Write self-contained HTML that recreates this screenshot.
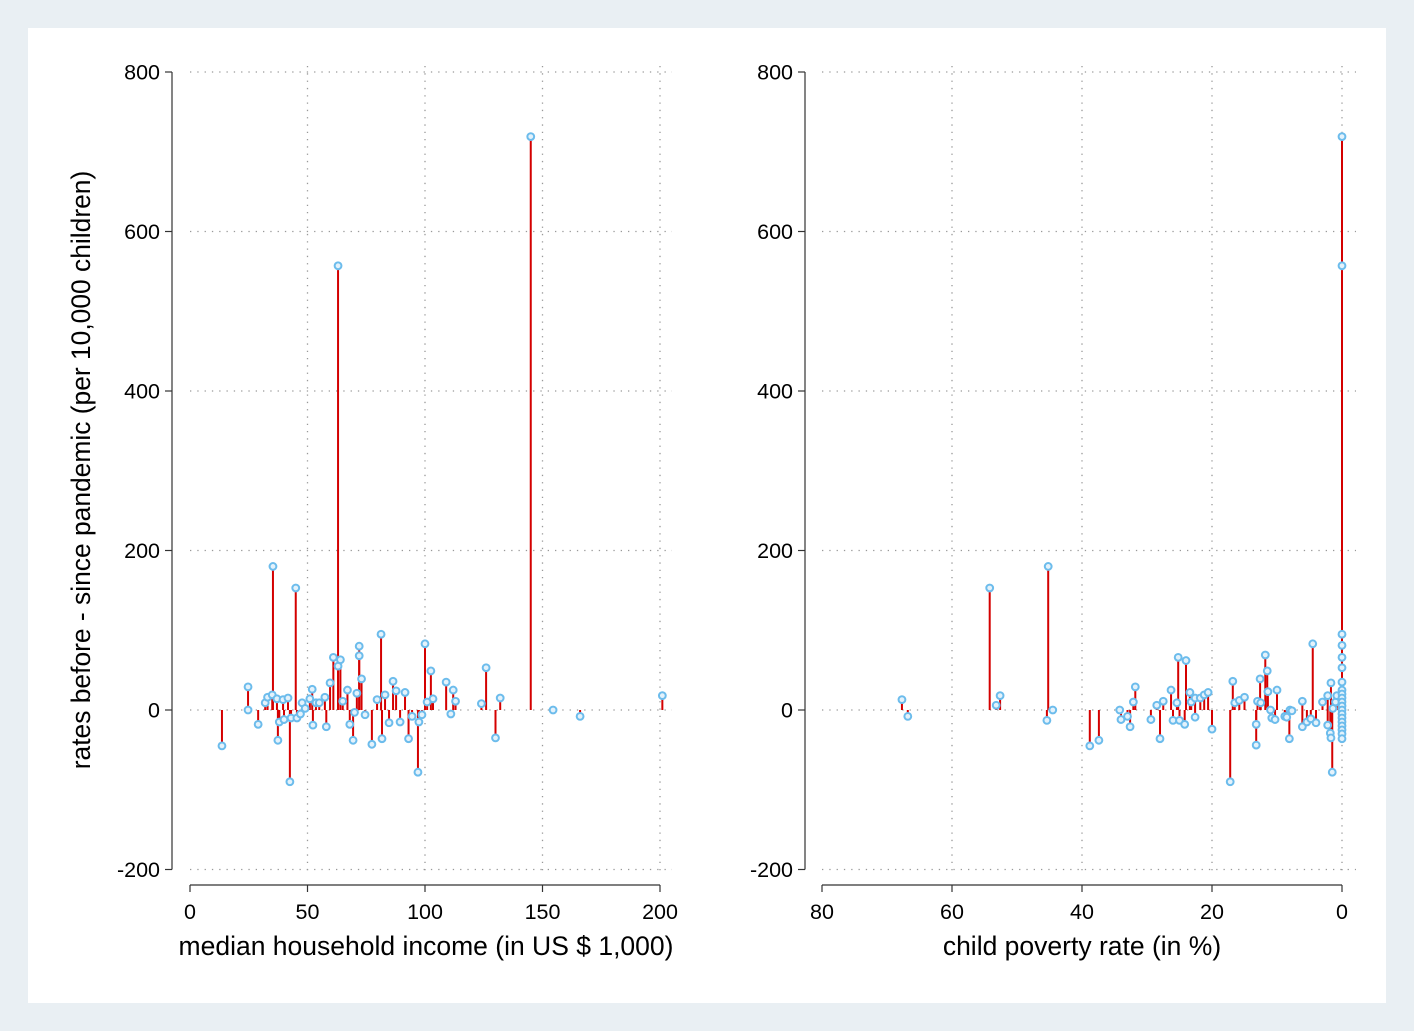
<!DOCTYPE html>
<html><head><meta charset="utf-8"><style>
html,body{margin:0;padding:0;background:#e9eff3;}
svg{display:block;font-family:"Liberation Sans",Arial,sans-serif;}
</style></head><body>
<svg id="chart" width="1414" height="1031" viewBox="0 0 1414 1031">
<rect x="0" y="0" width="1414" height="1031" fill="#e9eff3"/>
<rect x="28" y="28" width="1358" height="975" fill="#ffffff"/>
<g id="left"></g>
<g id="right"></g>
<text x="90" y="470" font-size="26.4" text-anchor="middle" transform="rotate(-90 90 470)" fill="#000">rates before - since pandemic (per 10,000 children)</text>
<text x="426" y="955" font-size="26.5" text-anchor="middle" fill="#000">median household income (in US $ 1,000)</text>
<text x="1082" y="955" font-size="26.5" text-anchor="middle" fill="#000">child poverty rate (in %)</text>
</svg>
<script>
const yTicks = [800, 600, 400, 200, 0, -200];
const incomeTicks = [0, 50, 100, 150, 200];
const povertyTicks = [80, 60, 40, 20, 0];
const incomeX = [13.6,24.7,24.7,29,32,33,35.3,35,37,37.4,38,39.6,40,41.7,42.5,43,45,45.5,47,47.7,49,51,52,52.3,53.6,55,57.4,58,59.6,61,63,63,64,65,67,68,69.4,70,71,72,72,73,74.5,77.4,79.6,81.3,81.7,83,84.7,86.4,87.7,89.4,91.5,93,94.5,97,97.4,98.7,100,100.9,102.5,103.4,109,111,112,113,124,126,130,132,145,154.5,166,201];
const incomeVal = [-45,29,0,-18,9,16,180,19,14,-38,-15,13,-12,15,-90,-10,153,-10,-5,9,2,14,26,-19,9,9,16,-21,34,66,55,557,63,11,25,-18,-38,-3,21,80,68,39,-6,-43,13,95,-36,19,-16,36,24,-15,22,-36,-8,-78,-15,-6,83,10,49,14,35,-5,25,11,8,53,-35,15,719,0,-8,18];
const povertyX = [67.7,66.8,54.2,53.2,52.6,45.2,45.4,44.5,38.8,37.4,34.2,34,33,32.6,32.1,31.8,29.4,28.5,28,27.5,26.3,26,25.2,25.4,25,24,24.2,23.4,23.2,22.6,22.6,21.8,21.2,20.6,20,17.2,16.8,16.5,15.8,15,13.2,13.2,13,12.6,12.5,11.8,11.5,11.4,11,10.8,10.3,10,8.8,8.5,8.1,8,7.7,6.1,6.1,5.4,4.8,4.5,4,3,2.2,2.2,1.8,1.7,1.7,1.5,1.4,1,0.8,0,0,0,0,0,0,0,0,0,0,0,0,0,0,0,0,0,0,0,0];
const povertyVal = [13,-8,153,6,18,180,-13,0,-45,-38,0,-12,-8,-21,10,29,-12,6,-36,11,25,-13,66,9,-13,62,-18,22,10,-9,15,15,19,22,-24,-90,36,9,12,16,-18,-44,11,39,9,69,49,23,0,-10,-12,25,-8,-9,-36,0,-1,-21,11,-15,-11,83,-16,10,18,-19,-29,34,-35,-78,2,10,18,719,557,95,81,66,53,35,25,20,15,10,5,0,-5,-10,-15,-20,-25,-30,-36];

const NS='http://www.w3.org/2000/svg';
function mk(parent, tag, attrs){const e=document.createElementNS(NS,tag);for(const k in attrs)e.setAttribute(k,attrs[k]);parent.appendChild(e);return e;}
const yScale = v => 710 - v*(159.5/200);

function panel(g, cfg){
  yTicks.forEach(t=>{
    const l=mk(g,'line',{x1:cfg.gx0,x2:cfg.gx1,y1:yScale(t),y2:yScale(t),stroke:'#999','stroke-width':1.3,'stroke-dasharray':'1.3 6'});
    
    
    const tk=mk(g,'line',{x1:cfg.ax-7,x2:cfg.ax,y1:yScale(t),y2:yScale(t),stroke:'#333','stroke-width':1.2});
    
    
    const tx=mk(g,'text',{x:cfg.ax-12,y:yScale(t)+7.5,'font-size':21.5,'text-anchor':'end',fill:'#000'});
    tx.textContent=t;
    
    
  });
  cfg.xt.forEach(t=>{
    const x=cfg.xs(t);
    if(t!==cfg.noGrid){
      const l=mk(g,'line',{x1:x,x2:x,y1:66,y2:876,stroke:'#999','stroke-width':1.3,'stroke-dasharray':'1.3 6'});
      
      
    }
    const tk=mk(g,'line',{x1:x,x2:x,y1:885,y2:892,stroke:'#333','stroke-width':1.2});
    
    
    const tx=mk(g,'text',{x:x,y:919,'font-size':21.5,'text-anchor':'middle',fill:'#000'});
    tx.textContent=t;
    
    
  });
  const ya=mk(g,'line',{x1:cfg.ax,x2:cfg.ax,y1:yScale(800),y2:yScale(-200),stroke:'#333','stroke-width':1.2});
  
  
  const xa=mk(g,'line',{x1:cfg.xs(cfg.xt[0]),x2:cfg.xs(cfg.xt[cfg.xt.length-1]),y1:885,y2:885,stroke:'#333','stroke-width':1.2});
  
  
  cfg.xv.forEach((xv,i)=>{
    const x=cfg.xs(xv), y=yScale(cfg.yv[i]);
    const s=mk(g,'line',{x1:x,x2:x,y1:yScale(0),y2:y,stroke:'#d40000','stroke-width':2});
    
    
  });
  cfg.xv.forEach((xv,i)=>{
    const x=cfg.xs(xv), y=yScale(cfg.yv[i]);
    const c=mk(g,'circle',{cx:x,cy:y,r:3.4,fill:'#e4f2fb',stroke:'#6cbcec','stroke-width':2});
    
    
  });
}
panel(document.getElementById('left'),{ax:172,gx0:190,gx1:672,xt:incomeTicks,xs:v=>190+v*2.35,xv:incomeX,yv:incomeVal,noGrid:0});
panel(document.getElementById('right'),{ax:805,gx0:822,gx1:1356,xt:povertyTicks,xs:v=>1342-v*6.5,xv:povertyX,yv:povertyVal,noGrid:80});
</script>
</body></html>
